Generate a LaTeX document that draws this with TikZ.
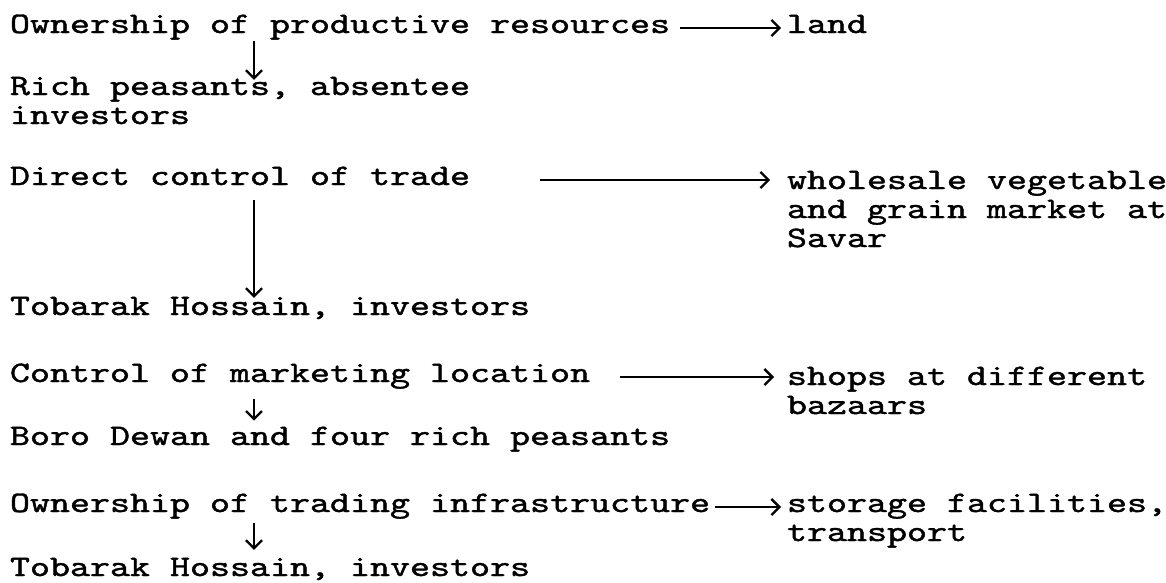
\documentclass[tikz,border=0pt]{standalone}
\usepackage{graphicx}
\usepackage{fontspec}
\usetikzlibrary{arrows.meta}
\newfontfamily\twfont{lmmono10-regular.otf}[FakeBold=1.2]
% typewriter text: Latin Modern Mono, 20pt pitch, squeezed vertically
\newcommand\twtext[1]{\scalebox{1}[0.78]{\vtop{\fontsize{38.1}{37.2}\selectfont\twfont\baselineskip=37.2pt\lineskiplimit=-100pt\relax #1}}}
\newcommand\twl[1]{\hbox{#1}}
\tikzset{
  tw/.style={anchor=base west, inner sep=0pt, outer sep=0pt},
  arr/.style={line width=1.9pt, -{Straight Barb[length=8pt,width=16pt,line width=2.3pt]}},
}
\begin{document}
\begin{tikzpicture}[x=1pt,y=-1pt]
\useasboundingbox (0,0) rectangle (1166,582);
% left column
\node[tw] (own1)   at (10,33)  {\twtext{\twl{Ownership of productive resources}}};
\node[tw] (rich)   at (10,95)  {\twtext{\twl{Rich peasants, absentee}\twl{investors}}};
\node[tw] (direct) at (10,185) {\twtext{\twl{Direct control of trade}}};
\node[tw] (tob1)   at (10,315) {\twtext{\twl{Tobarak Hossain, investors}}};
\node[tw] (ctrl)   at (10,382) {\twtext{\twl{Control of marketing location}}};
\node[tw] (boro)   at (10,445) {\twtext{\twl{Boro Dewan and four rich peasants}}};
\node[tw] (own2)   at (10,512) {\twtext{\twl{Ownership of trading infrastructure}}};
\node[tw] (tob2)   at (10,576) {\twtext{\twl{Tobarak Hossain, investors}}};
% right column
\node[tw] (land)   at (787,33)  {\twtext{\twl{land}}};
\node[tw] (whole)  at (787,189) {\twtext{\twl{wholesale vegetable}\twl{and grain market at}\twl{Savar}}};
\node[tw] (shops)  at (787,385) {\twtext{\twl{shops at different}\twl{bazaars}}};
\node[tw] (stor)   at (787,512) {\twtext{\twl{storage facilities,}\twl{transport}}};
% vertical arrows
\coordinate (vx) at (254,0);
\draw[arr, shorten <=1pt,  shorten >=-3pt] (own1.south -| vx) -- (rich.north -| vx);
\draw[arr, shorten <=15pt, shorten >=-1pt] (direct.south -| vx) -- (tob1.north -| vx);
\draw[arr, shorten <=10pt, shorten >=6pt]  (ctrl.south -| vx) -- (boro.north -| vx);
\draw[arr, shorten <=4pt,  shorten >=8pt]  (own2.south -| vx) -- (tob2.north -| vx);
% horizontal arrows
\coordinate (h1) at ([xshift=10pt,yshift=5pt]own1.base east);
\coordinate (h2) at ([xshift=70pt,yshift=5pt]direct.base east);
\coordinate (h3) at ([xshift=30pt,yshift=5pt]ctrl.base east);
\coordinate (h4) at ([xshift=5pt,yshift=5pt]own2.base east);
\draw[arr, shorten >=6pt]  (h1) -- (h1 -| land.west);
\draw[arr, shorten >=17pt] (h2) -- (h2 -| whole.west);
\draw[arr, shorten >=13pt] (h3) -- (h3 -| shops.west);
\draw[arr, shorten >=6pt]  (h4) -- (h4 -| stor.west);
\end{tikzpicture}
\end{document}
